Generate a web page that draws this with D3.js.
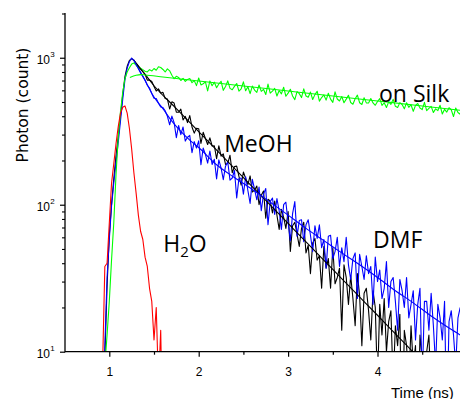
<!DOCTYPE html>
<html>
<head>
<meta charset="utf-8">
<script src="https://cdn.jsdelivr.net/npm/d3@7"></script>
<style>
  html, body { margin: 0; padding: 0; background: #fff; }
  svg { display: block; }
</style>
</head>
<body>
<svg id="chart" width="460" height="399"></svg>
<script>
// ---------- DATA ----------
// time channels, ns
const times = [
  0.900,0.925,0.950,0.975,1.000,1.025,1.050,1.075,1.100,1.125,
  1.150,1.175,1.200,1.225,1.250,1.275,1.300,1.325,1.350,1.375,
  1.400,1.425,1.450,1.475,1.500,1.525,1.550,1.575,1.600,1.625,
  1.650,1.675,1.700,1.725,1.750,1.775,1.800,1.825,1.850,1.875,
  1.900,1.925,1.950,1.975,2.000,2.025,2.050,2.075,2.100,2.125,
  2.150,2.175,2.200,2.225,2.250,2.275,2.300,2.325,2.350,2.375,
  2.400,2.425,2.450,2.475,2.500,2.525,2.550,2.575,2.600,2.625,
  2.650,2.675,2.700,2.725,2.750,2.775,2.800,2.825,2.850,2.875,
  2.900,2.925,2.950,2.975,3.000,3.025,3.050,3.075,3.100,3.125,
  3.150,3.175,3.200,3.225,3.250,3.275,3.300,3.325,3.350,3.375,
  3.400,3.425,3.450,3.475,3.500,3.525,3.550,3.575,3.600,3.625,
  3.650,3.675,3.700,3.725,3.750,3.775,3.800,3.825,3.850,3.875,
  3.900,3.925,3.950,3.975,4.000,4.025,4.050,4.075,4.100,4.125,
  4.150,4.175,4.200,4.225,4.250,4.275,4.300,4.325,4.350,4.375,
  4.400,4.425,4.450,4.475,4.500,4.525,4.550,4.575,4.600,4.625,
  4.650,4.675,4.700,4.725,4.750,4.775,4.800,4.825,4.850,4.875,
  4.900,4.925
];

// H2O (red) photon counts – only the first channels are non-zero
const countsH2O = [
  3,8,38,40,75,140,190,260,340,420,
  460,470,420,330,240,165,120,85,66,58,
  44,38,27,22,12,20,6,14,2
];

// MeOH (black) photon counts
const countsMeOH = [
  2,3,9,28,62,100,150,215,290,400,
  560,745,875,960,985,962,918,880,842,806,
  771,704,706,690,637,594,614,576,581,528,
  523,448,501,492,426,426,447,377,399,362,
  404,338,307,331,329,261,311,282,257,285,
  251,252,206,252,214,222,188,191,217,165,
  182,183,156,136,167,151,137,157,122,126,
  134,100,116,124,81,109,106,88,106,85,
  68,93,82,69,90,48,72,76,63,52,
  69,76,47,53,34,55,59,42,45,27,
  52,37,43,27,51,29,32,37,14,39,
  32,21,33,23,15,34,24,11,25,27,
  19,12,26,20,6,21,13,23,10,16,
  19,6,15,11,18,2,14,11,6,15,
  8,11,2,13,9,4,10,13,5,6,
  10,1,7,8,3,9,4,1,8,5,
  3,6
];

// DMF (blue) photon counts
const countsDMF = [
  2,4,11,32,58,98,140,195,265,370,
  520,710,850,940,995,958,898,848,792,748,
  705,650,622,570,530,528,490,462,458,436,
  399,350,401,362,286,346,300,338,271,288,
  296,226,269,243,272,187,243,220,192,232,
  188,204,150,202,178,148,183,196,147,152,
  171,111,151,152,118,155,125,102,149,127,
  108,132,91,118,129,73,105,111,86,110,
  91,68,100,104,76,57,87,105,61,78,
  79,56,73,79,62,48,72,59,73,51,
  58,37,61,62,43,48,60,38,51,41,
  60,39,31,43,47,23,46,38,31,45,
  34,38,21,44,30,36,23,27,41,20,
  30,32,22,14,31,26,20,32,17,21,
  26,12,21,27,6,22,22,14,25,15,
  8,21,17,12,22,3,16,19,13,8,
  17,20
];

// on Silk (green) photon counts
const countsSilk = [
  1,4,8,13,22,42,75,160,290,430,
  580,720,800,855,905,920,890,860,850,830,
  810,800,830,812,845,822,868,858,832,800,
  840,815,760,720,748,735,700,725,690,712,
  722,677,699,646,728,653,665,686,595,695,
  645,682,625,663,692,600,638,696,619,606,
  639,668,592,615,685,596,635,570,641,603,
  582,653,591,610,562,662,574,592,619,549,
  599,568,630,547,574,610,549,519,588,570,
  536,614,549,539,584,520,561,592,507,536,
  558,515,573,523,497,586,524,508,545,494,
  523,556,496,483,526,557,494,481,534,493,
  492,528,493,475,504,527,474,494,459,501,
  482,521,467,459,495,480,449,494,460,479,
  432,474,488,455,444,497,436,452,467,424,
  449,437,475,414,446,427,457,443,398,455,
  424,413
];

// fitted decay curves
const fitMeOHTimes  = [1.275,1.30,1.40,1.50,1.75,2.00,2.25,2.50,2.75,3.00,3.25,3.50,3.75,4.00,4.25,4.50,4.75];
const fitMeOHCounts = [965,915,770,645,451,314,219,153,107,74.6,52,36.3,25.3,17.7,12.3,8.6,6.0];

const fitDMFTimes  = [1.275,1.30,1.40,1.50,1.60,1.70,1.80,1.90,2.00,2.20,2.40,2.60,2.80,3.00,3.20,3.40,3.60,3.80,4.00,4.20,4.40,4.60,4.80,4.925];
const fitDMFCounts = [960,900,700,540,450,370,315,275,245,187,153,127,104,85,69,57,47,39,32,26,21.5,17.5,14.5,13.0];

const fitSilkTimes  = [1.23,1.30,1.35,1.40,1.60,2.00,2.50,3.00,3.50,4.00,4.50,4.925];
const fitSilkCounts = [735,760,768,764,740,695,643,594,549,508,470,439];

// axis ticks
const xMajorTicks = [1, 2, 3, 4];
const xMinorTicks = [1.5, 2.5, 3.5, 4.5];
const yMajorTicks = [10, 100, 1000];
const yMajorExponents = ["1", "2", "3"];
const yMinorTicks = [20,30,40,50,60,70,80,90,200,300,400,500,600,700,800,900,2000];

// series labels (anchored in data space: time, counts at text baseline)
const seriesLabels = [
  { name: "on Silk", t: 4.017, c: 501 },
  { name: "MeOH", t: 2.285, c: 228 },
  { name: "DMF", t: 3.95, c: 50.5 },
  { name: "H2O", t: 1.603, c: 48 }
];

// ---------- DRAW ----------
const svg = d3.select("#chart");
const x = d3.scaleLinear().domain([0.5, 4.925]).range([64.6, 460.2]);
const y = d3.scaleLog().domain([10, 2000]).range([351.7, 13.5]);

const defs = svg.append("defs");
defs.append("clipPath").attr("id", "plotclip")
  .append("rect").attr("x", 65).attr("y", 13).attr("width", 400).attr("height", 339);

const plot = svg.append("g").attr("clip-path", "url(#plotclip)");

function series(ts, cs) { return ts.slice(0, cs.length).map((t, i) => [t, cs[i]]); }

const dataLine = d3.line().x(d => x(d[0])).y(d => y(Math.max(d[1], 0.5)));
const fitLine = d3.line().x(d => x(d[0])).y(d => y(d[1])).curve(d3.curveMonotoneX);

const dataSeries = [
  { v: countsMeOH, color: "#000000" },
  { v: countsDMF, color: "#0000ff" },
  { v: countsSilk, color: "#00ff00" },
  { v: countsH2O, color: "#ff0000" }
];
dataSeries.forEach(s => {
  plot.append("path").datum(series(times, s.v))
    .attr("d", dataLine).attr("fill", "none")
    .attr("stroke", s.color).attr("stroke-width", 1.1)
    .attr("stroke-linejoin", "round");
});

const fits = [
  { t: fitMeOHTimes, v: fitMeOHCounts, color: "#000000" },
  { t: fitDMFTimes, v: fitDMFCounts, color: "#0000ff" },
  { t: fitSilkTimes, v: fitSilkCounts, color: "#00ff00" }
];
fits.forEach(f => {
  plot.append("path").datum(series(f.t, f.v))
    .attr("d", fitLine).attr("fill", "none")
    .attr("stroke", f.color).attr("stroke-width", 1.1);
});

// axes
const axisColor = "#000";
const gx = svg.append("g").attr("transform", "translate(0,351.7)");
gx.call(d3.axisBottom(x).tickValues(xMajorTicks).tickSize(5).tickPadding(11).tickFormat(d3.format("d")));
gx.select(".domain").remove();
gx.append("line").attr("x1", 65).attr("x2", 460).attr("y1", 0).attr("y2", 0)
  .attr("stroke", axisColor).attr("stroke-width", 1.3);
gx.selectAll(".tick line").attr("stroke", axisColor).attr("stroke-width", 1.2);
gx.selectAll(".tick text").attr("font-family", "Liberation Sans, Arial, sans-serif")
  .attr("font-size", 12).attr("fill", "#000");

const gxm = svg.append("g").attr("transform", "translate(0,351.7)");
gxm.call(d3.axisBottom(x).tickValues(xMinorTicks).tickSize(3).tickFormat(""));
gxm.select(".domain").remove();
gxm.selectAll(".tick line").attr("stroke", axisColor).attr("stroke-width", 1.2);

const gy = svg.append("g").attr("transform", "translate(65,0)");
gy.call(d3.axisLeft(y).tickValues(yMajorTicks).tickSize(5).tickFormat(""));
gy.select(".domain").remove();
gy.append("line").attr("x1", 0).attr("x2", 0).attr("y1", 13).attr("y2", 352.3)
  .attr("stroke", axisColor).attr("stroke-width", 1.3);
gy.selectAll(".tick line").attr("stroke", axisColor).attr("stroke-width", 1.2);

const gym = svg.append("g").attr("transform", "translate(65,0)");
gym.call(d3.axisLeft(y).tickValues(yMinorTicks).tickSize(3).tickFormat(""));
gym.select(".domain").remove();
gym.selectAll(".tick line").attr("stroke", axisColor).attr("stroke-width", 1.1);

// y tick labels 10^n
yMajorTicks.forEach((v, i) => {
  svg.append("text")
    .attr("x", 50).attr("y", y(v) + 6.3)
    .attr("text-anchor", "end")
    .attr("font-family", "Liberation Sans, Arial, sans-serif")
    .attr("font-size", 12).attr("fill", "#000")
    .text("10");
  svg.append("text")
    .attr("x", 50.3).attr("y", y(v) - 0.5)
    .attr("font-family", "Liberation Sans, Arial, sans-serif")
    .attr("font-size", 8).attr("fill", "#000")
    .text(yMajorExponents[i]);
});

// axis titles
svg.append("text")
  .attr("transform", "translate(28,105) rotate(-90)")
  .attr("text-anchor", "middle")
  .attr("font-family", "DejaVu Sans, sans-serif")
  .attr("font-size", 15.5).attr("fill", "#000")
  .text("Photon (count)");

svg.append("text")
  .attr("x", 391).attr("y", 397.5)
  .attr("font-family", "Liberation Sans, Arial, sans-serif")
  .attr("font-size", 15).attr("fill", "#000")
  .text("Time (ns)");

// series labels
const labelFont = "Open Sans, Calibri, sans-serif";
seriesLabels.forEach(l => {
  const tx = svg.append("text")
    .attr("x", x(l.t)).attr("y", y(l.c))
    .attr("font-family", labelFont).attr("font-size", 23).attr("fill", "#000");
  if (l.name === "H2O") {
    tx.append("tspan").text("H");
    tx.append("tspan").attr("font-size", 15).attr("dy", 5).text("2");
    tx.append("tspan").attr("dy", -5).text("O");
  } else {
    tx.text(l.name);
  }
});
</script>
</body>
</html>
